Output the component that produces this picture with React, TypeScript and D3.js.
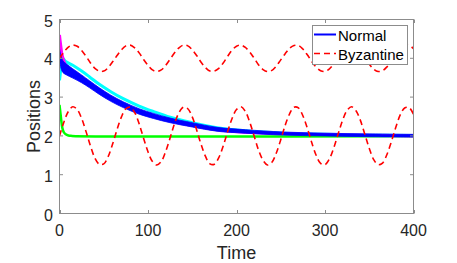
import * as d3 from "d3";
import React, { useRef, useEffect } from "react";

const width = 457;
const height = 263;
const box = { left: 59.5, right: 413.5, top: 19.5, bottom: 213.5 };

const xTicks = [0, 100, 200, 300, 400];
const yTicks = [0, 1, 2, 3, 4, 5];

// Byzantine agents, read every 5 time units
const byzTime = d3.range(0, 401, 5);
const byzHigh = [
  4.0, 4.16, 4.29, 4.34, 4.31, 4.2, 4.05, 3.88, 3.74, 3.67, 3.67, 3.76, 3.91, 4.07, 4.22, 4.32,
  4.34, 4.27, 4.14, 3.97, 3.82, 3.7, 3.66, 3.7, 3.82, 3.98, 4.14, 4.27, 4.34, 4.32, 4.22, 4.07,
  3.9, 3.76, 3.67, 3.67, 3.74, 3.88, 4.05, 4.21, 4.31, 4.34, 4.28, 4.16, 4.0, 3.83, 3.71, 3.66,
  3.69, 3.8, 3.96, 4.12, 4.26, 4.33, 4.33, 4.24, 4.09, 3.92, 3.77, 3.68, 3.66, 3.73, 3.86, 4.03,
  4.19, 4.3, 4.34, 4.3, 4.18, 4.02, 3.85, 3.72, 3.66, 3.68, 3.78, 3.93, 4.1, 4.24, 4.33, 4.33, 4.25,
];
const byzLow = [
  2.0, 2.36, 2.63, 2.75, 2.68, 2.45, 2.11, 1.74, 1.43, 1.27, 1.28, 1.47, 1.79, 2.16, 2.49, 2.7,
  2.74, 2.6, 2.31, 1.94, 1.59, 1.34, 1.25, 1.34, 1.6, 1.95, 2.32, 2.6, 2.74, 2.7, 2.49, 2.15,
  1.78, 1.47, 1.28, 1.27, 1.44, 1.74, 2.11, 2.45, 2.68, 2.75, 2.63, 2.35, 1.99, 1.63, 1.37, 1.25,
  1.32, 1.56, 1.9, 2.27, 2.57, 2.74, 2.72, 2.52, 2.2, 1.83, 1.5, 1.29, 1.26, 1.41, 1.7, 2.06,
  2.41, 2.66, 2.75, 2.65, 2.4, 2.04, 1.68, 1.39, 1.26, 1.3, 1.52, 1.85, 2.22, 2.54, 2.72, 2.73, 2.56,
];

// Normal agents (blue band = spread of several blue agents)
const blueTime = [0, 2, 4, 8, 15, 25, 34, 45, 58, 72, 90, 106, 125, 150, 178, 210, 253, 300, 350, 400];
const blueUpper = [4.25, 4.04, 3.93, 3.85, 3.73, 3.57, 3.42, 3.24, 3.05, 2.88, 2.7, 2.58, 2.46, 2.34, 2.22, 2.16, 2.1, 2.07, 2.05, 2.04];
const blueLower = [3.99, 3.72, 3.63, 3.57, 3.49, 3.37, 3.24, 3.07, 2.89, 2.73, 2.56, 2.45, 2.34, 2.23, 2.12, 2.07, 2.02, 2.0, 1.98, 1.97];

const cyanTime = [0, 1, 2, 3.5, 7, 15, 25, 34, 45, 58, 72, 90, 106, 125, 150, 178, 210, 253, 300, 400];
const cyanPos = [3.43, 3.62, 3.85, 4.0, 3.92, 3.82, 3.67, 3.52, 3.33, 3.14, 2.96, 2.77, 2.63, 2.48, 2.34, 2.21, 2.13, 2.07, 2.04, 2.01];

const magentaTime = [0, 1, 2, 3, 5, 8, 15, 34, 72, 106, 178, 253, 400];
const magentaPos = [4.6, 4.4, 4.22, 4.08, 3.92, 3.78, 3.62, 3.35, 2.8, 2.52, 2.16, 2.06, 2.0];

const greenTime = [0, 1, 2, 3, 4, 5, 7, 10, 14, 400];
const greenPos = [2.8, 2.6, 2.4, 2.23, 2.14, 2.09, 2.04, 2.01, 2.0, 2.0];

const legendLabels = ["Normal", "Byzantine"];

const font = "'Liberation Sans', Arial, Helvetica, sans-serif";
const textColor = "#262626";
const axisColor = "#8c8c8c";

function PositionsChart() {
  const ref = useRef<SVGSVGElement>(null);

  useEffect(() => {
    const svg = d3.select(ref.current);
    svg.selectAll("*").remove();

    const x = d3.scaleLinear().domain([0, 400]).range([box.left, box.right]);
    const y = d3.scaleLinear().domain([0, 5]).range([box.bottom, box.top]);

    svg.append("rect").attr("width", width).attr("height", height).attr("fill", "#fff");

    svg
      .append("clipPath")
      .attr("id", "plotclip")
      .append("rect")
      .attr("x", box.left)
      .attr("y", box.top - 2)
      .attr("width", box.right - box.left)
      .attr("height", box.bottom - box.top + 2);

    const g = svg.append("g").attr("clip-path", "url(#plotclip)");

    const pts = (t: number[], v: number[]) => t.map((d, i) => [d, v[i]] as [number, number]);
    const line = d3
      .line<[number, number]>()
      .x((d) => x(d[0]))
      .y((d) => y(d[1]))
      .curve(d3.curveCatmullRom);

    g.append("path")
      .attr("d", line(pts(cyanTime, cyanPos)))
      .attr("fill", "none")
      .attr("stroke", "#00ffff")
      .attr("stroke-width", 3);
    g.append("path")
      .attr("d", line(pts(magentaTime, magentaPos)))
      .attr("fill", "none")
      .attr("stroke", "#ff00ff")
      .attr("stroke-width", 3);
    g.append("path")
      .attr("d", line(pts(greenTime, greenPos)))
      .attr("fill", "none")
      .attr("stroke", "#00ff00")
      .attr("stroke-width", 2.5);

    // blue band
    const band = blueTime.map((t, i) => ({ t, hi: blueUpper[i], lo: blueLower[i] }));
    const area = d3
      .area<{ t: number; hi: number; lo: number }>()
      .x((d) => x(d.t))
      .y0((d) => y(d.lo))
      .y1((d) => y(d.hi))
      .curve(d3.curveCatmullRom);
    g.append("path").attr("d", area(band)).attr("fill", "#0000ff").attr("stroke", "#0000ff").attr("stroke-width", 0.8);

    // byzantine agents
    [byzHigh, byzLow].forEach((vals) => {
      g.append("path")
        .attr("d", line(pts(byzTime, vals)))
        .attr("fill", "none")
        .attr("stroke", "#ff0000")
        .attr("stroke-width", 1.6)
        .attr("stroke-dasharray", "6,4");
    });

    // axes box
    svg
      .append("rect")
      .attr("x", box.left)
      .attr("y", box.top)
      .attr("width", box.right - box.left)
      .attr("height", box.bottom - box.top)
      .attr("fill", "none")
      .attr("stroke", axisColor)
      .attr("stroke-width", 1);

    const tl = 3.5;
    xTicks.forEach((t) => {
      const px = Math.round(x(t)) + 0.5;
      svg.append("line").attr("x1", px).attr("x2", px).attr("y1", box.bottom).attr("y2", box.bottom - tl).attr("stroke", axisColor);
      svg.append("line").attr("x1", px).attr("x2", px).attr("y1", box.top).attr("y2", box.top + tl).attr("stroke", axisColor);
      svg
        .append("text")
        .attr("x", x(t))
        .attr("y", 236)
        .attr("text-anchor", "middle")
        .attr("font-size", 16)
        .attr("font-family", font)
        .attr("fill", textColor)
        .text(t);
    });
    yTicks.forEach((t) => {
      const py = y(t);
      svg.append("line").attr("x1", box.left).attr("x2", box.left + tl).attr("y1", py).attr("y2", py).attr("stroke", axisColor);
      svg.append("line").attr("x1", box.right).attr("x2", box.right - tl).attr("y1", py).attr("y2", py).attr("stroke", axisColor);
      svg
        .append("text")
        .attr("x", 53)
        .attr("y", py + 7)
        .attr("text-anchor", "end")
        .attr("font-size", 16)
        .attr("font-family", font)
        .attr("fill", textColor)
        .text(t);
    });

    svg
      .append("text")
      .attr("x", (box.left + box.right) / 2)
      .attr("y", 259)
      .attr("text-anchor", "middle")
      .attr("font-size", 18)
      .attr("font-family", font)
      .attr("fill", textColor)
      .text("Time");
    svg
      .append("text")
      .attr("transform", `translate(40,${(box.top + box.bottom) / 2}) rotate(-90)`)
      .attr("text-anchor", "middle")
      .attr("font-size", 18)
      .attr("font-family", font)
      .attr("fill", textColor)
      .text("Positions");

    // legend
    const lg = svg.append("g");
    lg.append("rect")
      .attr("x", 312.5)
      .attr("y", 25.5)
      .attr("width", 95)
      .attr("height", 39)
      .attr("fill", "#fff")
      .attr("stroke", axisColor);
    legendLabels.forEach((label, i) => {
      const ly = i === 0 ? 34.5 : 53.5;
      lg.append("line")
        .attr("x1", 314)
        .attr("x2", 336)
        .attr("y1", ly)
        .attr("y2", ly)
        .attr("stroke", i === 0 ? "#0000ff" : "#ff0000")
        .attr("stroke-width", i === 0 ? 2 : 1.6)
        .attr("stroke-dasharray", i === 0 ? null : "6,4");
      lg.append("text")
        .attr("x", 338)
        .attr("y", ly + 6)
        .attr("font-size", 15)
        .attr("font-family", font)
        .attr("fill", "#000")
        .text(label);
    });
  }, []);

  return (
    <svg
      ref={ref}
      width={width}
      height={height}
      style={{ position: "absolute", left: 0, top: 0, display: "block" }}
    ></svg>
  );
}

export default function App() {
  return (
    <div className="chart">
      <PositionsChart />
    </div>
  );
}
